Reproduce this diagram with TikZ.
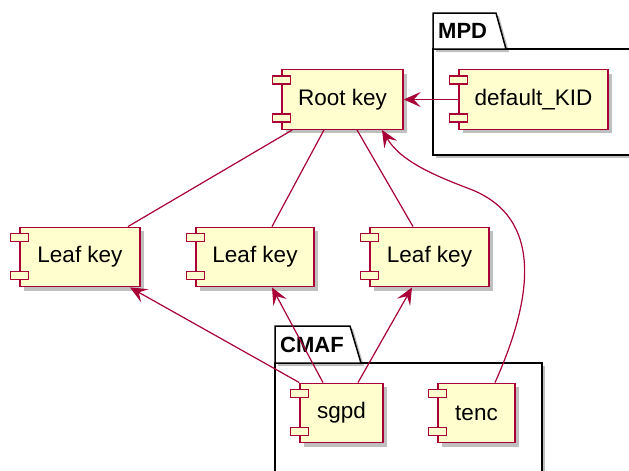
\documentclass[tikz,border=0pt]{standalone}
\usepackage{fontspec}
\setmainfont{Liberation Sans}
\usetikzlibrary{arrows.meta,shadows}
\definecolor{umlRed}{HTML}{A80036}
\definecolor{umlYellow}{HTML}{FEFECE}
\begin{document}
\begin{tikzpicture}[x=1pt,y=-1pt,
component/.style={draw=umlRed, fill=umlYellow, line width=1.4pt, minimum height=59.5pt, inner sep=0pt,
  font=\fontsize{22.5}{26}\selectfont,
  drop shadow={shadow xshift=4pt, shadow yshift=-4pt, opacity=0.25, fill=black}},
port/.style={draw=umlRed, fill=umlYellow, line width=1.4pt},
package/.style={draw=black, fill=white, line width=1.5pt,
  drop shadow={shadow xshift=3pt, shadow yshift=-3pt, opacity=0.25, fill=black}},
packname/.style={anchor=west, inner sep=0pt, font=\bfseries\fontsize{22}{26}\selectfont},
link/.style={draw=umlRed, line width=1.2pt},
uses/.style={link, -{Stealth[length=17pt,width=15pt,inset=7pt]}}]

\useasboundingbox (0,0) rectangle (629,471);

% packages
\path[package] (433,49) rectangle (640,155);
\path[package] (433,49) -- (433,13) -- (496,13) -- (506,49) -- cycle;
\node[packname] (MPD) at (438,31) {MPD};

\path[package] (275,363) rectangle (542,490);
\path[package] (275,363) -- (275,326) -- (350,326) -- (361,363) -- cycle;
\node[packname] (CMAF) at (280,345) {CMAF};

% components
\node[component, minimum width=121pt] (Root) at (342.5,99.5) {Root key};
\node[component, minimum width=149pt] (KID) at (533.5,99.5) {default\_KID};
\node[component, minimum width=120pt] (Leaf1) at (80,257) {Leaf key};
\node[component, minimum width=118pt] (Leaf2) at (255,257) {Leaf key};
\node[component, minimum width=119pt] (Leaf3) at (429.5,257) {Leaf key};
\node[component, minimum width=83pt] (Sgpd) at (341.5,413) {sgpd};
\node[component, minimum width=77pt] (Tenc) at (476.5,413) {tenc};

\foreach \c in {Root,KID,Leaf1,Leaf2,Leaf3,Sgpd,Tenc}
{
    \draw[port] ([shift={(-9,7)}]\c.north west) rectangle ++(18,8);
    \draw[port] ([shift={(-9,-16)}]\c.south west) rectangle ++(18,8);
};

% links
\draw[link] ([xshift=11pt]Root.south west) -- ([xshift=48pt]Leaf1.north);
\draw[link] ([xshift=-18.5pt]Root.south) -- ([xshift=17pt]Leaf2.north);
\draw[link] ([xshift=14.5pt]Root.south) -- ([xshift=-16.5pt]Leaf3.north);

\draw[uses] (KID.west) -- (Root.east);
\draw[uses] ([xshift=18.5pt]Tenc.north) .. controls (532,300) and (545,218) .. (470,189)
    .. controls (430,174) and (400,160) .. ([xshift=39.5pt]Root.south);

\draw[uses] (Sgpd.north west) -- ([xshift=50pt]Leaf1.south);
\draw[uses] ([xshift=-18.5pt]Sgpd.north) -- ([xshift=17pt]Leaf2.south);
\draw[uses] ([xshift=16.5pt]Sgpd.north) -- ([xshift=-17.5pt]Leaf3.south);

\end{tikzpicture}
\end{document}
